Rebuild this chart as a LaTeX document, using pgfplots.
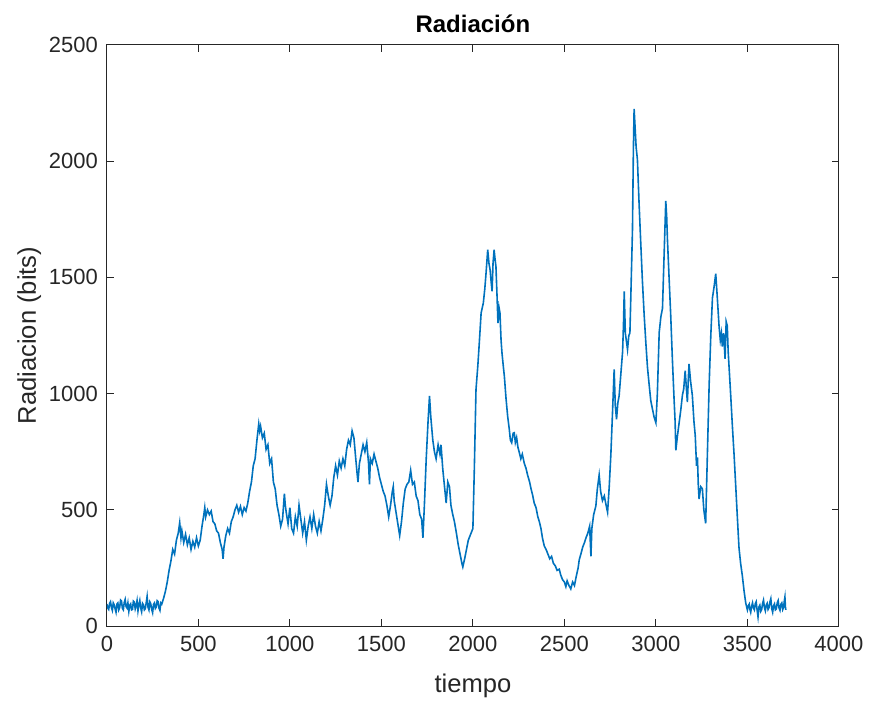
\documentclass[border=0pt]{standalone}
\usepackage{pgfplots}
\pgfplotsset{compat=1.18}
\usepackage{fontspec}
\setmainfont{Liberation Sans}
\definecolor{mblue}{RGB}{0,114,189}
\definecolor{axgray}{RGB}{38,38,38}
\begin{document}
\begin{tikzpicture}
\begin{axis}[
  scale only axis,
  width=366.5pt, height=291pt,
  xmin=0, xmax=4000, ymin=0, ymax=2500,
  xtick={0,500,...,4000}, ytick={0,500,...,2500},
  scaled ticks=false,
  /pgf/number format/assume math mode=true,
  /pgf/number format/1000 sep={},
  tick align=inside,
  major tick length=3.5pt,
  axis line style={axgray, line width=0.5pt},
  every tick/.style={axgray, line width=0.5pt},
  tick label style={font=\fontsize{11}{13}\selectfont, text=axgray},
  xticklabel style={yshift=-1.5pt},
  yticklabel style={xshift=-1pt},
  title={\textbf{Radiación}},
  title style={font=\fontsize{12}{14}\selectfont, yshift=-3.5pt},
  xlabel={tiempo},
  ylabel={Radiacion (bits)},
  label style={font=\fontsize{12.8}{15}\selectfont, text=axgray},
  xlabel style={yshift=-4pt},
  ylabel style={yshift=-3pt},
]
\addplot[mblue, line width=0.8pt] coordinates {
(0,95)(5,78)(10,72)(15,98)(20,105)(25,80)(30,68)(35,100)(40,92)(45,75)(50,60)(55,95)(60,100)(65,70)(70,80)(75,112)(80,108)(85,76)(90,70)(95,102)
(100,115)(105,84)(110,78)(115,100)(120,64)(125,90)(130,96)(135,70)(140,72)(145,108)(150,104)(155,74)(160,88)(165,110)(170,66)(175,92)(180,110)(185,78)(190,62)(195,98)
(200,92)(205,70)(210,75)(215,100)(220,128)(225,82)(230,70)(235,104)(240,96)(245,72)(250,58)(255,94)(260,100)(265,76)(270,82)(275,110)(280,106)(285,78)(290,68)(295,100)
(300,95)(310,120)(320,150)(330,190)(340,240)(350,280)(360,330)(370,310)(380,370)(390,400)
(398,445)(405,380)(410,410)(420,360)(430,395)(440,350)(450,380)(460,330)(470,365)(480,340)
(490,380)(500,345)(510,370)(520,430)(530,480)(535,510)(540,470)(550,500)(560,480)(570,495)
(580,450)(590,440)(600,410)(610,400)(620,360)(630,330)(635,290)(640,340)(650,390)(660,420)
(670,400)(680,450)(690,470)(700,500)(710,520)(720,490)(730,515)(740,480)(750,510)(760,495)
(770,530)(780,580)(790,620)(800,690)(810,720)(820,800)(830,870)(835,840)(840,860)(850,810)
(860,830)(870,760)(880,780)(890,700)(900,720)(910,620)(920,590)(930,520)(940,480)(950,430)
(960,460)(970,570)(975,520)(980,490)(990,440)(1000,510)(1010,420)(1020,400)(1030,470)(1040,430)
(1050,520)(1060,460)(1070,400)(1080,450)(1090,370)(1100,430)(1110,470)(1120,420)(1130,480)(1140,430)
(1150,400)(1160,450)(1170,410)(1180,460)(1190,520)(1200,610)(1210,560)(1220,520)(1230,560)(1240,640)
(1250,690)(1260,650)(1270,710)(1280,680)(1290,720)(1300,690)(1310,760)(1320,800)(1330,780)(1340,840)
(1350,810)(1360,720)(1367,660)(1372,620)(1380,700)(1390,740)(1400,780)(1410,750)(1420,790)(1430,700)
(1435,610)(1440,720)(1450,700)(1460,740)(1470,710)(1480,680)(1490,640)(1500,610)(1510,580)(1520,560)
(1530,520)(1540,470)(1550,520)(1560,580)(1565,600)(1570,540)(1580,490)(1590,440)(1600,390)(1610,450)
(1620,530)(1630,590)(1640,610)(1650,620)(1660,670)(1670,610)(1680,620)(1690,560)(1700,540)(1710,480)
(1720,460)(1727,380)(1735,520)(1745,720)(1755,880)(1763,990)(1770,900)(1781,800)(1790,750)(1799,720)
(1810,780)(1820,740)(1826,780)(1835,680)(1845,600)(1854,530)(1863,620)(1872,600)(1880,520)(1890,480)
(1899,450)(1910,400)(1920,350)(1930,310)(1940,270)(1945,255)(1955,290)(1965,330)(1975,370)(1990,400)
(2000,420)(2008,680)(2017,1018)(2027,1120)(2035,1218)(2045,1347)(2057,1390)(2065,1450)(2072,1519)(2081,1619)
(2088,1560)(2094,1533)(2100,1480)(2105,1440)(2110,1560)(2116,1619)(2121,1580)(2126,1547)(2132,1420)(2137,1304)
(2143,1370)(2148,1347)(2154,1230)(2159,1175)(2166,1120)(2172,1075)(2181,980)(2190,903)(2199,846)(2205,800)
(2212,789)(2220,830)(2226,832)(2232,790)(2239,811)(2246,770)(2254,746)(2262,720)(2270,740)(2281,700)
(2290,680)(2299,650)(2310,620)(2318,590)(2326,565)(2335,530)(2345,510)(2355,470)(2363,450)(2372,420)
(2380,380)(2390,345)(2400,330)(2410,310)(2420,290)(2430,300)(2440,270)(2450,260)(2460,240)(2472,245)
(2480,220)(2490,200)(2500,190)(2508,170)(2515,195)(2525,175)(2535,160)(2545,190)(2555,175)(2565,215)
(2575,250)(2581,285)(2590,310)(2600,340)(2610,360)(2618,380)(2628,400)(2638,430)(2645,300)(2650,420)
(2660,480)(2672,517)(2680,590)(2690,650)(2698,580)(2708,540)(2718,560)(2728,520)(2736,490)(2745,600)
(2754,740)(2762,900)(2772,1104)(2778,950)(2785,890)(2792,960)(2799,990)(2808,1080)(2818,1180)(2823,1300)
(2827,1440)(2833,1260)(2840,1220)(2845,1190)(2852,1250)(2858,1261)(2865,1480)(2872,1705)(2877,2050)(2881,2225)
(2886,2150)(2892,2060)(2899,2008)(2908,1820)(2918,1635)(2926,1490)(2936,1337)(2945,1220)(2954,1113)(2963,1040)
(2972,970)(2981,935)(2990,900)(3000,875)(3008,1000)(3018,1263)(3027,1330)(3036,1367)(3045,1600)(3054,1829)
(3059,1760)(3063,1665)(3072,1500)(3081,1337)(3090,1150)(3100,964)(3105,880)(3109,756)(3118,820)(3127,875)
(3136,930)(3145,994)(3152,1020)(3160,1099)(3166,1030)(3172,964)(3177,1060)(3181,1128)(3190,1050)(3199,994)
(3208,880)(3215,820)(3222,690)(3227,726)(3232,600)(3236,547)(3245,600)(3254,591)(3262,500)(3272,442)
(3282,760)(3291,1039)(3300,1250)(3309,1412)(3318,1460)(3327,1516)(3335,1420)(3345,1292)(3352,1230)(3358,1260)
(3363,1203)(3370,1260)(3378,1150)(3384,1310)(3390,1292)(3395,1180)(3400,1113)(3409,990)(3418,860)(3427,740)
(3436,606)(3445,470)(3454,338)(3463,270)(3472,219)(3482,150)(3491,99)(3500,70)(3505,88)(3510,95)(3514,72)(3518,60)
(3523,85)(3528,100)(3533,78)(3538,70)(3543,96)(3548,105)(3553,70)(3558,40)(3563,82)(3568,90)(3573,64)(3578,72)(3583,98)(3588,112)(3593,80)(3598,66)(3603,90)(3608,98)(3613,72)(3618,80)
(3623,104)(3628,118)(3633,76)(3638,60)(3643,88)(3648,96)(3653,70)(3658,74)(3663,100)(3668,110)(3673,78)(3678,68)(3683,94)(3688,100)(3693,72)(3698,82)(3702,110)(3705,125)(3708,80)(3710,70)
};
\end{axis}
\path (current axis.south west) ++(-53.5pt,-36pt) coordinate (bbA);
\path (current axis.north east) ++(15pt,22.5pt) coordinate (bbB);
\useasboundingbox (bbA) rectangle (bbB);
\end{tikzpicture}
\end{document}
